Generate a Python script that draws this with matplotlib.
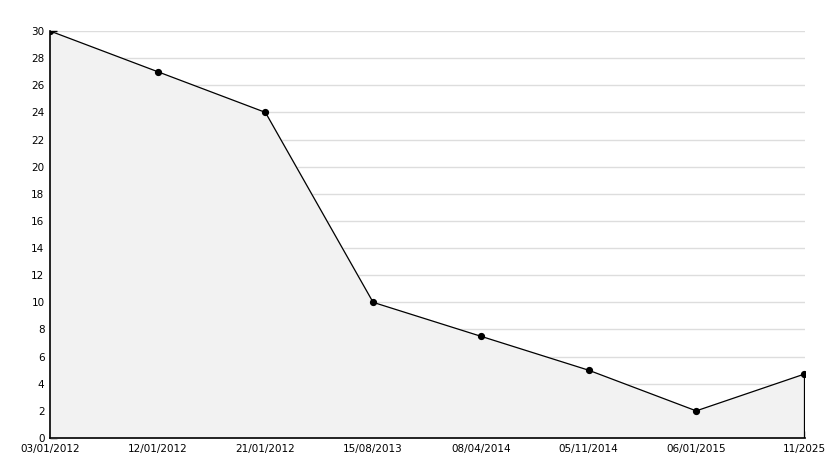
import matplotlib.pyplot as plt
import numpy as np

dates = ['03/01/2012', '12/01/2012', '21/01/2012', '15/08/2013',
         '08/04/2014', '05/11/2014', '06/01/2015', '11/2025']
values = [30, 27, 24, 10, 7.5, 5, 2, 4.7]

x = np.arange(len(dates))

fig = plt.figure(figsize=(8.34, 4.68), dpi=100)
ax = fig.add_axes([50/834, 30/468, 755/834, 407/468])

ax.fill_between(x, values, 0, color='#f2f2f2', zorder=1)
ax.plot(x, values, color='black', linewidth=0.9, marker='o', markersize=4.2, zorder=3)
# closing edge of the area on the right
ax.vlines(x[-1], 0, values[-1], color='black', linewidth=0.9, zorder=3)

ax.set_xlim(0, len(dates) - 1 + 0.01)
ax.set_ylim(0, 30)
ax.set_yticks(np.arange(0, 31, 2))
ax.set_yticks(np.arange(1, 30, 2), minor=True)
ax.set_xticks(x)
ax.set_xticklabels(dates)
ax.yaxis.grid(True, color='#dddddd', linewidth=1, zorder=0)
ax.set_axisbelow(True)

for s in ['top', 'right']:
    ax.spines[s].set_visible(False)
for s in ['left', 'bottom']:
    ax.spines[s].set_linewidth(1.2)

ax.tick_params(axis='both', direction='in', labelsize=7.5, length=5, width=1, pad=4)
ax.tick_params(axis='y', which='minor', direction='in', length=3, width=1)

fig.savefig('out.png', dpi=100)
